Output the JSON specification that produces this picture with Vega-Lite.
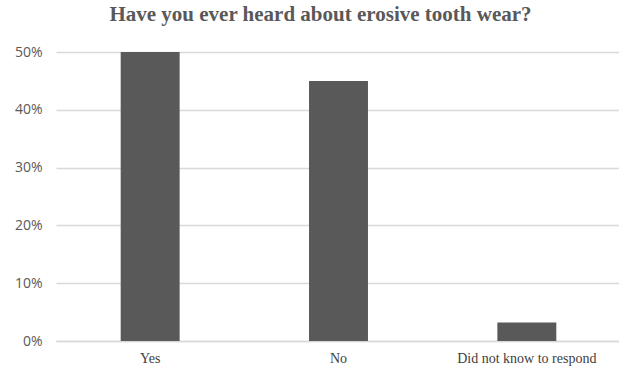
{
  "$schema": "https://vega.github.io/schema/vega-lite/v6.json",
  "autosize": {"type": "none"},
  "padding": {"left": 56, "top": 52, "right": 0, "bottom": 26},
  "width": 565,
  "height": 289,
  "background": "white",
  "title": {
    "text": "Have you ever heard about erosive tooth wear?",
    "font": "Liberation Serif",
    "fontSize": 21,
    "fontWeight": "bold",
    "color": "#595959",
    "anchor": "middle",
    "frame": "group",
    "dx": -18,
    "offset": 20
  },
  "data": {
    "values": [
      {"answer": "Yes", "pct": 0.50},
      {"answer": "No", "pct": 0.45},
      {"answer": "Did not know to respond", "pct": 0.032}
    ]
  },
  "mark": {"type": "bar", "color": "#595959"},
  "encoding": {
    "x": {
      "field": "answer",
      "type": "nominal",
      "sort": null,
      "scale": {"paddingInner": 0.687, "paddingOuter": 0.3435},
      "axis": {
        "title": null,
        "labelAngle": 0,
        "labelFont": "Liberation Serif",
        "labelFontSize": 14,
        "labelColor": "#404040",
        "labelPadding": 10,
        "labelOverlap": false,
        "labelBound": false,
        "ticks": false,
        "domainColor": "#d9d9d9",
        "domainWidth": 1.5
      }
    },
    "y": {
      "field": "pct",
      "type": "quantitative",
      "scale": {"domain": [0, 0.5], "nice": false},
      "axis": {
        "title": null,
        "format": ".0%",
        "values": [0, 0.1, 0.2, 0.3, 0.4, 0.5],
        "labelOverlap": false,
        "labelBound": false,
        "labelFlush": false,
        "domain": false,
        "ticks": false,
        "labelFont": "Open Sans",
        "labelFontSize": 14,
        "labelColor": "#595959",
        "labelPadding": 14,
        "gridColor": "#d9d9d9",
        "gridWidth": 1.5
      }
    }
  },
  "config": {"view": {"stroke": null}}
}
